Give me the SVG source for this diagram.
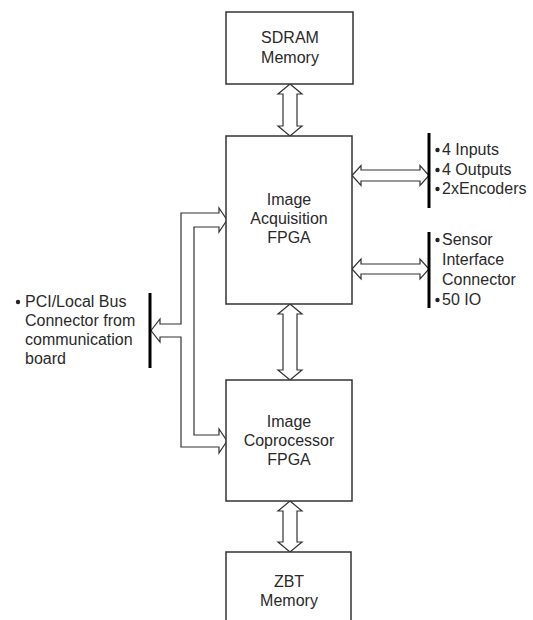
<svg xmlns="http://www.w3.org/2000/svg" width="533" height="620" viewBox="0 0 533 620">
<style>
.box{fill:#fff;stroke:#333;stroke-width:1.5}
.arr{fill:#fff;stroke:#333;stroke-width:1.2;stroke-linejoin:miter}
.bar{stroke:#000;stroke-width:3}
text{font-family:"Liberation Sans",Arial,sans-serif;font-size:16px;fill:#2a2a2a}
.c{text-anchor:middle}
.dot{fill:#222}
</style>
<rect width="533" height="620" fill="#fff"/>
<g id="connectors">
<polygon class="arr" points="290,84 302,94 297,94 297,126 302,126 290,136 278,126 283,126 283,94 278,94"/>
<polygon class="arr" points="290,304 302,314 297,314 297,370 302,370 290,380 278,370 283,370 283,314 278,314"/>
<polygon class="arr" points="290,501 302,511 297,511 297,542 302,542 290,552 278,542 283,542 283,511 278,511"/>
<polygon class="arr" points="352,175.5 361,165.5 361,170 420,170 420,165.5 429,175.5 420,185.5 420,181 361,181 361,185.5"/>
<polygon class="arr" points="352,269 361,259 361,264 420,264 420,259 429,269 420,279 420,274 361,274 361,279"/>
<polygon class="arr" points="151,330.5 160,319 160,324 181,324 181,213 219,213 219,208 227,220 219,232 219,227 194,227 194,435 219,435 219,429 227,441 219,453 219,447 181,447 181,337 160,337 160,342"/>
<line class="bar" x1="150" y1="293" x2="150" y2="368"/>
<line class="bar" x1="429" y1="133" x2="429" y2="208"/>
<line class="bar" x1="429" y1="232" x2="429" y2="308"/>
</g>
<g id="sdram">
<rect class="box" x="226" y="12" width="127" height="72"/>
<text class="c" x="290" y="43">SDRAM</text>
<text class="c" x="290" y="63">Memory</text>
</g>
<g id="acq">
<rect class="box" x="226" y="136" width="126" height="168"/>
<text class="c" x="289" y="205">Image</text>
<text class="c" x="289" y="224">Acquisition</text>
<text class="c" x="289" y="243">FPGA</text>
</g>
<g id="copro">
<rect class="box" x="226" y="380" width="126" height="121"/>
<text class="c" x="289" y="427">Image</text>
<text class="c" x="289" y="446">Coprocessor</text>
<text class="c" x="289" y="465">FPGA</text>
</g>
<g id="zbt">
<rect class="box" x="226" y="552" width="125" height="80"/>
<text class="c" x="289" y="587">ZBT</text>
<text class="c" x="289" y="606">Memory</text>
</g>
<g id="io-labels">
<circle class="dot" cx="437.5" cy="150" r="2.2"/>
<text x="442" y="155">4 Inputs</text>
<circle class="dot" cx="437.5" cy="170" r="2.2"/>
<text x="442" y="175">4 Outputs</text>
<circle class="dot" cx="437.5" cy="189" r="2.2"/>
<text x="442" y="194">2xEncoders</text>
</g>
<g id="sensor-labels">
<circle class="dot" cx="437.5" cy="240" r="2.2"/>
<text x="442" y="245">Sensor</text>
<text x="442" y="265">Interface</text>
<text x="442" y="285">Connector</text>
<circle class="dot" cx="437.5" cy="300" r="2.2"/>
<text x="442" y="305">50 IO</text>
</g>
<g id="pci-labels">
<circle class="dot" cx="18" cy="302" r="2.2"/>
<text x="25" y="307">PCI/Local Bus</text>
<text x="25" y="326">Connector from</text>
<text x="25" y="345">communication</text>
<text x="25" y="364">board</text>
</g>
</svg>
